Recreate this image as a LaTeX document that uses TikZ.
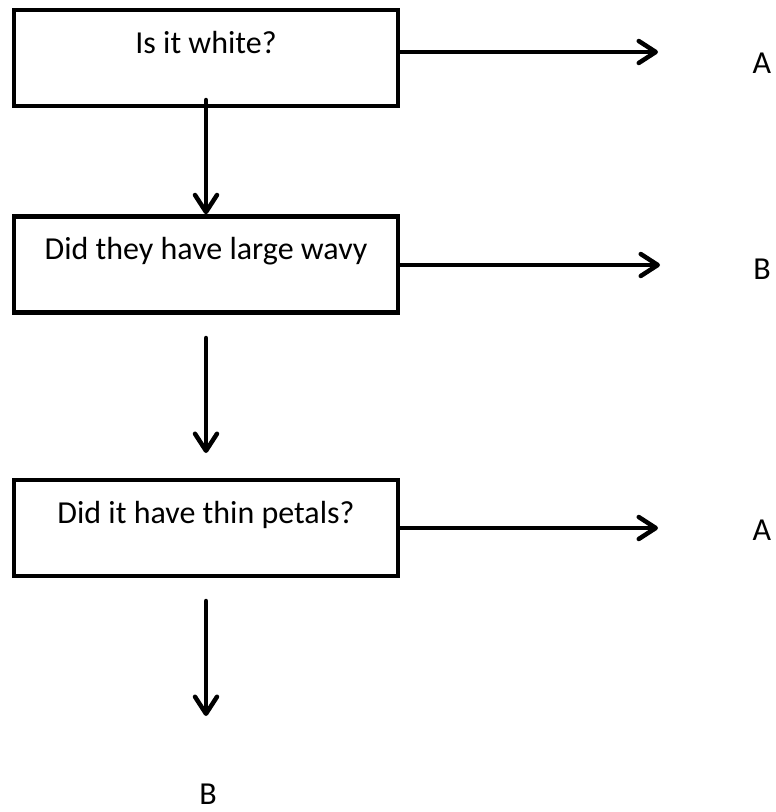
\documentclass[tikz,border=0pt]{standalone}
\usepackage{fontspec}
\setmainfont{Carlito}
\usetikzlibrary{arrows.meta}
\begin{document}
\begin{tikzpicture}[x=1pt,y=-1pt,
  qbox/.style={draw, line width=4.5pt, minimum width=384pt, minimum height=96pt, inner sep=0pt},
  qtext/.style={font=\fontsize{32}{38}\selectfont, inner sep=0pt, anchor=base},
  lbl/.style={font=\fontsize{32}{38}\selectfont, inner sep=0pt, anchor=base},
  conn/.style={line width=4.5pt, line cap=round, -{Straight Barb[length=17pt,width=22pt,line cap=round,line join=round]}}]
\useasboundingbox (0,0) rectangle (776,812);
% boxes
\node[qbox] (box1) at (206,58) {};
\node[qbox] (box2) at (206,264.5) {};
\node[qbox] (box3) at (206,528) {};
% box texts
\node[qtext] (t1) at (206,53) {Is it white?};
\node[qtext] (t2) at (206,259) {Did they have large wavy};
\node[qtext] (t3) at (206,523) {Did it have thin petals?};
% outcome labels
\node[lbl] (r1) at (762,73) {A};
\node[lbl] (r2) at (762,279) {B};
\node[lbl] (r3) at (762,540) {A};
\node[lbl] (r4) at (208,804) {B};
% connector end points
\coordinate (h1) at (658,52);
\coordinate (h2) at (660,265);
\coordinate (h3) at (658,528);
\coordinate (v1s) at (206,100);
\coordinate (v2s) at (206,338);
\coordinate (v2e) at (206,453);
\coordinate (v3s) at (206,601);
\coordinate (v3e) at (206,716);
% connectors
\draw[conn] (box1.east |- h1) -- (h1);
\draw[conn] (box2.east |- h2) -- (h2);
\draw[conn] (box3.east |- h3) -- (h3);
\draw[conn] (v1s) -- (box2.north);
\draw[conn] (v2s) -- (v2e);
\draw[conn] (v3s) -- (v3e);
\end{tikzpicture}
\end{document}
